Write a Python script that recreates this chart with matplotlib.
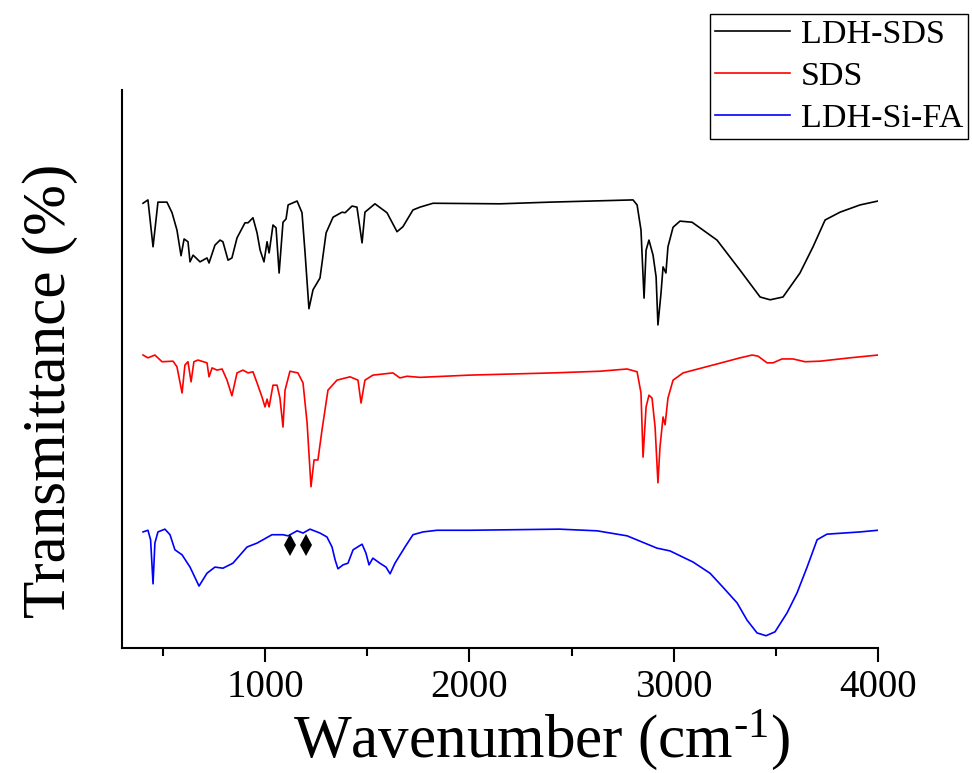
import numpy as np
import matplotlib
matplotlib.use("Agg")
import matplotlib.pyplot as plt
from matplotlib.ticker import MultipleLocator

plt.rcParams['font.family'] = ['Liberation Serif', 'DejaVu Serif']
plt.rcParams['mathtext.fontset'] = 'custom'
plt.rcParams['mathtext.rm'] = 'Liberation Serif'
plt.rcParams['mathtext.it'] = 'Liberation Serif:italic'

# LDH-SDS (black)
w_ldh_sds = [403, 427, 452, 476, 520, 545, 569, 589, 604, 623, 633, 648, 682, 716, 726,
             755, 780, 794, 819, 838, 863, 902, 917, 941, 961, 976, 995, 1010, 1020,
             1039, 1054, 1069, 1088, 1103, 1113, 1157, 1181, 1196, 1215, 1235, 1269,
             1299, 1333, 1377, 1392, 1426, 1450, 1475, 1489, 1538, 1597, 1646, 1675,
             1724, 1758, 1822, 2150, 2395, 2801, 2821, 2840, 2855, 2865, 2879, 2899,
             2914, 2923, 2938, 2948, 2962, 2972, 2997, 3031, 3090, 3212, 3325, 3423,
             3472, 3535, 3618, 3682, 3741, 3814, 3912, 4000]
t_ldh_sds = [79.7, 80.3, 71.9, 79.9, 79.9, 78.0, 74.9, 70.3, 73.3, 72.8, 69.2, 70.4, 69.2,
             69.9, 69.0, 72.2, 73.1, 72.8, 69.5, 69.9, 73.5, 76.2, 76.2, 77.1, 74.4, 71.3,
             69.2, 72.8, 70.8, 75.8, 75.3, 67.2, 76.3, 76.9, 79.4, 80.1, 78.0, 70.8, 60.8,
             64.2, 66.3, 74.4, 77.2, 78.1, 78.0, 79.2, 79.0, 72.6, 78.1, 79.6, 78.0, 74.6,
             75.5, 78.5, 79.0, 79.7, 79.6, 79.9, 80.3, 79.4, 74.9, 62.7, 71.3, 73.1, 70.4,
             66.5, 57.9, 63.6, 68.3, 67.2, 71.9, 75.4, 76.5, 76.3, 73.1, 67.7, 62.9, 62.4,
             62.9, 67.2, 71.9, 76.7, 78.1, 79.4, 80.1]

# SDS (red)
w_sds = [403, 427, 461, 496, 550, 569, 594, 608, 623, 638, 652, 672, 716, 726, 741, 765,
         790, 814, 838, 863, 892, 917, 941, 961, 985, 1000, 1010, 1020, 1039, 1059, 1073,
         1088, 1098, 1122, 1161, 1186, 1206, 1225, 1240, 1259, 1279, 1308, 1352, 1416,
         1455, 1470, 1489, 1528, 1626, 1660, 1695, 1758, 2000, 2410, 2640, 2772, 2821,
         2840, 2850, 2865, 2879, 2894, 2909, 2923, 2933, 2948, 2958, 2972, 2997, 3046,
         3212, 3325, 3384, 3413, 3457, 3486, 3530, 3584, 3643, 3716, 3863, 4000]
t_sds = [52.5, 52.0, 52.5, 51.3, 51.4, 50.4, 45.7, 50.7, 51.3, 47.7, 51.3, 51.6, 51.1, 48.6,
         50.2, 49.8, 50.0, 48.0, 45.2, 49.3, 49.8, 49.3, 49.5, 47.5, 45.0, 43.2, 44.6, 43.2,
         47.1, 47.1, 44.8, 39.6, 46.2, 49.6, 49.3, 47.5, 40.3, 28.9, 33.7, 33.7, 39.1, 46.2,
         48.0, 48.6, 48.0, 43.9, 48.0, 48.9, 49.3, 48.4, 48.7, 48.5, 48.9, 49.3, 49.6, 50.0,
         49.5, 45.7, 34.2, 43.2, 45.3, 44.8, 39.6, 29.6, 36.0, 41.4, 40.0, 44.8, 48.0, 49.3,
         50.9, 52.0, 52.5, 52.3, 51.1, 51.1, 51.8, 51.8, 51.3, 51.4, 52.0, 52.5]

# LDH-Si-FA (blue)
w_ldh_si = [403, 427, 440, 452, 461, 476, 510, 535, 559, 594, 633, 677, 716, 755, 794, 843,
            912, 961, 1034, 1088, 1113, 1157, 1186, 1220, 1269, 1303, 1328, 1343, 1357,
            1382, 1406, 1431, 1475, 1494, 1509, 1528, 1562, 1592, 1612, 1636, 1685, 1724,
            1773, 1842, 2003, 2440, 2625, 2772, 2918, 2982, 3095, 3178, 3241, 3310, 3359,
            3408, 3452, 3496, 3555, 3604, 3653, 3702, 3750, 3912, 4000]
t_ldh_si = [20.8, 21.1, 19.4, 11.5, 18.8, 20.8, 21.3, 20.3, 17.6, 16.7, 14.5, 11.1, 13.4,
            14.5, 14.3, 15.2, 18.1, 18.8, 20.3, 20.3, 20.1, 21.0, 20.6, 21.3, 20.6, 19.9,
            18.1, 15.8, 14.2, 14.9, 15.2, 17.6, 18.6, 17.0, 14.9, 16.1, 15.2, 14.5, 13.3,
            15.2, 18.1, 20.3, 20.8, 21.1, 21.1, 21.3, 21.0, 20.1, 17.9, 17.4, 15.4, 13.4,
            10.9, 8.1, 5.0, 2.7, 2.2, 2.9, 6.3, 9.9, 14.5, 19.4, 20.4, 20.8, 21.1]

# diamond markers
w_marks = [1122, 1200]
t_marks = [18.5, 18.5]

fig = plt.figure(figsize=(9.72, 7.73), dpi=100)
ax = fig.add_axes([0.1255, 0.1617, 0.7778, 0.7219])

ax.plot(w_ldh_sds, t_ldh_sds, color='black', lw=1.2, label='LDH-SDS')
ax.plot(w_sds, t_sds, color='#ff0000', lw=1.2, label='SDS')
ax.plot(w_ldh_si, t_ldh_si, color='#0000ff', lw=1.2, label='LDH-Si-FA')
ax.plot(w_marks, t_marks, 'd', color='black', ms=11, mew=0)

ax.set_xlim(300, 4000)
ax.set_ylim(0, 100)
ax.xaxis.set_major_locator(MultipleLocator(1000))
ax.xaxis.set_minor_locator(MultipleLocator(500))
ax.set_yticks([])
ax.spines['top'].set_visible(False)
ax.spines['right'].set_visible(False)
ax.spines['left'].set_linewidth(1.5)
ax.spines['bottom'].set_linewidth(1.5)
ax.tick_params(axis='x', which='major', length=10, width=1.5, labelsize=28, pad=5)
ax.tick_params(axis='x', which='minor', length=6, width=1.5)

ax.set_xlabel(r'Wavenumber (cm$^{\text{-1}}$)', fontsize=44, labelpad=0)
ax.xaxis.set_label_coords(0.555, -0.108)
ax.set_ylabel('Transmittance (%)', fontsize=44)
ax.yaxis.set_label_coords(-0.058, 0.46)

fig.legend(loc='upper right', bbox_to_anchor=(968 / 972, 1 - 14 / 773),
           fontsize=24.5, frameon=True, fancybox=False, framealpha=1,
           edgecolor='black', handlelength=2.2, handletextpad=0.3,
           borderpad=0.15, labelspacing=0.33, borderaxespad=0)

fig.savefig('out.png', dpi=100)
